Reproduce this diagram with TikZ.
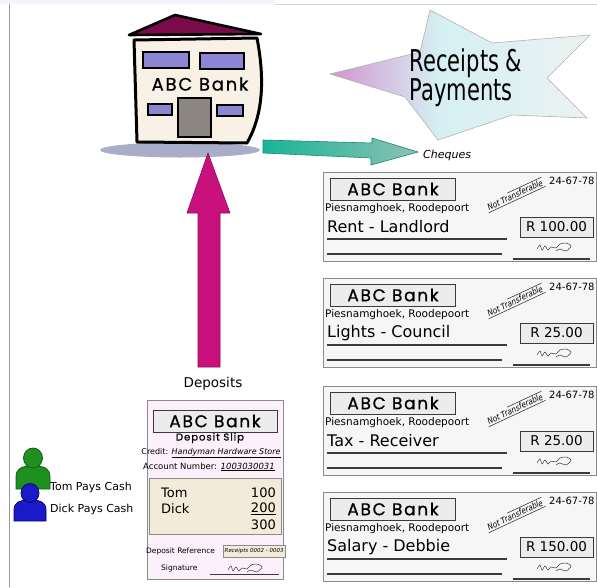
\documentclass[tikz,border=0pt]{standalone}
\usepackage{fontspec}
\setmainfont{DejaVu Sans}
\newfontfamily\geofont[LetterSpace=10, FakeBold=0.8]{Poppins}
\usetikzlibrary{calc}

\definecolor{roofred}{HTML}{7A0A4A}
\definecolor{wallcream}{HTML}{FAF1E6}
\definecolor{winblue}{HTML}{8C86D4}
\definecolor{doorgray}{HTML}{8B8680}
\definecolor{shadowblue}{HTML}{A8AEC8}
\definecolor{tealA}{HTML}{18B596}
\definecolor{tealB}{HTML}{8FC0B4}
\definecolor{tealline}{HTML}{138A72}
\definecolor{magentaA}{HTML}{C8117C}
\definecolor{magentaline}{HTML}{8A0A55}
\definecolor{starpink}{HTML}{D492D0}
\definecolor{starcyan}{HTML}{D5F0F3}
\definecolor{stargray}{HTML}{EDF1F1}
\definecolor{chequebg}{HTML}{F6F6F6}
\definecolor{chequeline}{HTML}{8A8A8A}
\definecolor{labelbox}{HTML}{ECECEC}
\definecolor{slipbg}{HTML}{FCF0FA}
\definecolor{slipcream}{HTML}{F3EBD9}
\definecolor{tomgreen}{HTML}{1F8F1F}
\definecolor{tomdark}{HTML}{0E5E0E}
\definecolor{dickblue}{HTML}{1A1AC8}
\definecolor{dickdark}{HTML}{06067A}
\definecolor{inkgray}{HTML}{3A3A3A}
\definecolor{bandlav}{HTML}{F5F3FB}

% pink at the left tip of the banner, fading to pale cyan and grey
% (the path's bounding box maps onto 25bp..75bp)
\pgfdeclarehorizontalshading{bannershade}{100bp}{%
  color(0bp)=(starpink); color(25bp)=(starpink); color(33bp)=(starpink!60!starcyan);
  color(46bp)=(starcyan); color(62bp)=(starcyan!50!stargray); color(75bp)=(stargray);
  color(100bp)=(stargray)}

\tikzset{
  namebox/.style={draw=inkgray, fill=labelbox, line width=0.8pt, inner sep=0pt,
    font=\geofont\fontsize{17}{18}\selectfont},
  txt/.style={inner sep=0pt, text=black},
  ruleline/.style={draw=inkgray, line width=1.3pt},
  scribble/.style={draw=inkgray, line width=0.5pt},
  window/.style={draw=black, line width=1.6pt, fill=winblue},
}

% one cheque: #1 index, #2 top edge, #3 payee, #4 amount
\newcommand\chequeat[4]{%
  \begin{scope}[shift={(0,#2)}]
    \draw[chequeline, fill=chequebg, line width=0.8pt] (323,0) rectangle (596,89);
    \node[namebox, minimum width=125pt, minimum height=22pt] (cbank#1) at (393,17) {ABC Bank};
    \node[txt, anchor=west, font=\fontsize{10.5}{12}\selectfont] (caddr#1) at (325,37) {Piesnamghoek, Roodepoort};
    \node[txt, anchor=west, font=\fontsize{16}{18}\selectfont] (cpayee#1) at (327,55) {#3};
    \draw[ruleline] (327,67) -- (507,67);
    \draw[ruleline] (327,82) -- (502,82);
    \node[txt, rotate=25, inner sep=1.5pt, xscale=0.85, font=\itshape\fontsize{8.5}{9}\selectfont] (cnt#1) at (515,23) {Not Transferable};
    \draw[inkgray, line width=0.6pt] (cnt#1.south west) -- (cnt#1.south east);
    \draw[inkgray, line width=0.6pt] ($(cnt#1.north west)!0.4!(cnt#1.north east)$) -- (cnt#1.north east);
    \node[txt, anchor=west, font=\fontsize{10}{12}\selectfont] (cno#1) at (549,9) {24-67-78};
    \node[draw=inkgray, fill=labelbox, line width=0.8pt, minimum width=73pt, minimum height=20pt,
      inner sep=0pt, font=\fontsize{13.5}{15}\selectfont] (camt#1) at (556.5,55) {#4};
    \coordinate (csig#1) at (553,76);
    \draw[scribble] plot[smooth] coordinates {(537,77) (540,73) (542,78) (545,74) (548,78) (551,75)
      (556,76) (560,72) (566,71) (571,74) (566,79) (560,77) (556,79)};
    \draw[inkgray, line width=1.1pt] (513,87) -- (590,87);
  \end{scope}}

\begin{document}
\begin{tikzpicture}[x=1pt, y=-1pt]
\useasboundingbox (0,0) rectangle (597,587);

% page furniture
\fill[bandlav] (0,0) rectangle (275,4);
\draw[gray!35, line width=0.6pt] (275,4) -- (597,4);
\draw[gray!80, line width=0.7pt] (9,4) -- (9,587);

% bank building
\fill[shadowblue] (180,150) ellipse [x radius=80, y radius=7.5];
\draw[line width=3pt, fill=wallcream, line join=round]
  (134,40) -- (257,38) .. controls (265,80) and (263,115) .. (247,143) -- (137,142) -- cycle;
\draw[line width=2.6pt, fill=roofred, line join=round] (129,35) -- (175,15) -- (261,34) -- cycle;
\draw[window] (143,52) rectangle (189,68);
\draw[window] (200,53) rectangle (244,69);
\draw[window] (148,104) rectangle (172,115);
\draw[window] (217,105) rectangle (243,116);
\draw[line width=2pt, fill=doorgray] (178,98) rectangle (211,137);
\node[txt, font=\geofont\fontsize{18}{19}\selectfont] (bankname) at (200,84) {ABC Bank};
\coordinate (bankfoot) at (209,152);

% star banner
\draw[gray!60, line width=0.6pt, shading=bannershade]
  (430,10) -- (492,43) -- (590,35) -- (547,78) -- (587,118) -- (512,115) -- (438,140)
  -- (405,97) -- (330,74) -- (420,52) -- cycle;
\node[txt, align=left, xscale=0.7, font=\fontsize{30}{25}\selectfont] (rp) at (466,78) {Receipts \&\\Payments};

% cheque arrow
\draw[tealline, line width=0.6pt, left color=tealA, right color=tealB]
  (263,140) -- (372,143) -- (372,138) -- (418,152) -- (371,165) -- (371,158) -- (263,153) -- cycle;
\node[txt, anchor=west, font=\itshape\fontsize{11}{13}\selectfont] (chequeslbl) at (423,155) {Cheques};

% deposit arrow
\draw[magentaline, line width=0.6pt, fill=magentaA]
  (198,367) -- (198,213) -- (187,213) -- (208,153) -- (230,213) -- (220,213) -- (220,367) -- cycle;
\node[txt, font=\fontsize{13.5}{15}\selectfont] (depositslbl) at (213,384) {Deposits};

% cheques
\chequeat{1}{172}{Rent - Landlord}{R 100.00}
\chequeat{2}{278}{Lights - Council}{R 25.00}
\chequeat{3}{386}{Tax - Receiver}{R 25.00}
\chequeat{4}{492}{Salary - Debbie}{R 150.00}

% deposit slip
\draw[chequeline, fill=slipbg, line width=0.8pt] (147,400) rectangle (283,579);
\node[namebox, minimum width=124pt, minimum height=22pt] (sbank) at (215,421) {ABC Bank};
\node[txt, font=\geofont\fontsize{10}{11}\selectfont] (stitle) at (210,438) {Deposit Slip};
\node[txt, font=\fontsize{8}{9}\selectfont] (scredit) at (211,453)
  {Credit: \underline{\itshape Handyman Hardware Store}};
\node[txt, font=\fontsize{8.5}{9}\selectfont] (saccount) at (209,467)
  {Account Number: \underline{\itshape 1003030031}};
\draw[chequeline, fill=slipcream, line width=0.8pt] (149,478) rectangle (281,534);
\node[txt, anchor=west, font=\fontsize{13}{14}\selectfont] (stom) at (161,493) {Tom};
\node[txt, anchor=west, font=\fontsize{13}{14}\selectfont] (sdick) at (161,509) {Dick};
\node[txt, anchor=east, font=\fontsize{13}{14}\selectfont] (stomamt) at (276,493) {100};
\node[txt, anchor=east, font=\fontsize{13}{14}\selectfont] (sdickamt) at (276,509) {\underline{200}};
\node[txt, anchor=east, font=\fontsize{13}{14}\selectfont] (stotal) at (276,525) {300};
\node[txt, anchor=west, font=\fontsize{7.5}{9}\selectfont] (sref) at (146,551) {Deposit Reference};
\node[draw=chequeline, fill=slipcream, anchor=west, inner sep=1.5pt, minimum height=12pt,
  font=\itshape\fontsize{5.5}{6}\selectfont] (srefbox) at (223,551) {Receipts 0002 - 0003};
\node[txt, anchor=west, font=\fontsize{7.5}{9}\selectfont] (ssig) at (161,568) {Signature};
\draw[scribble] plot[smooth] coordinates {(228,570) (231,566) (233,571) (236,567) (239,571) (242,568)
  (247,569) (251,565) (257,564) (262,567) (257,572) (251,570) (247,572)};
\draw[inkgray, line width=0.7pt] (210,574) -- (279,574);

% customers
\draw[tomdark, line width=0.8pt, fill=tomgreen]
  (16,489) -- (16,477) .. controls (16,468) and (22,466) .. (33,466)
  .. controls (44,466) and (50,468) .. (50,477) -- (50,489) -- cycle;
\draw[tomdark, line width=0.8pt, fill=tomgreen] (33,458) ellipse [x radius=9.5, y radius=10];
\draw[dickdark, line width=0.8pt, fill=dickblue]
  (14,521) -- (14,510) .. controls (14,502) and (20,500) .. (30,500)
  .. controls (40,500) and (46,502) .. (46,510) -- (46,521) -- cycle;
\draw[dickdark, line width=0.8pt, fill=dickblue] (30,493) ellipse [x radius=9, y radius=9.5];
\node[txt, anchor=west, font=\fontsize{11}{13}\selectfont] (tomlbl) at (50,487) {Tom Pays Cash};
\node[txt, anchor=west, font=\fontsize{11}{13}\selectfont] (dicklbl) at (50,509) {Dick Pays Cash};
\end{tikzpicture}
\end{document}
